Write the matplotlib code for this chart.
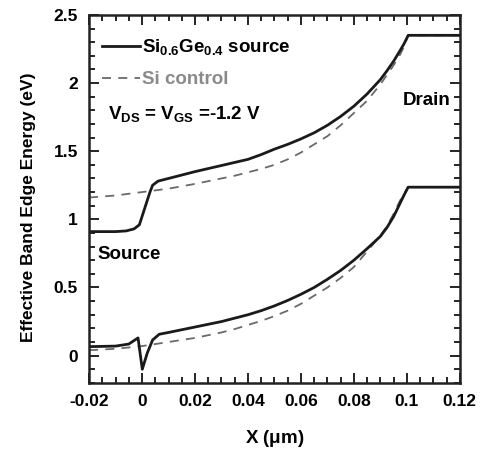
import matplotlib
matplotlib.use("Agg")
import matplotlib.pyplot as plt
from matplotlib.ticker import MultipleLocator

plt.rcParams['font.family'] = ['Liberation Sans', 'DejaVu Sans']
plt.rcParams['font.weight'] = 'bold'
plt.rcParams['axes.labelweight'] = 'bold'
plt.rcParams['mathtext.fontset'] = 'custom'
plt.rcParams['mathtext.rm'] = 'Liberation Sans:bold'
plt.rcParams['mathtext.it'] = 'Liberation Sans:bold'
plt.rcParams['mathtext.bf'] = 'Liberation Sans:bold'

# Upper band edge, SiGe source (solid)
x_up_sige = [-0.02, -0.01, -0.006, -0.003, -0.001, 0.001, 0.003, 0.004, 0.006, 0.01, 0.02, 0.03,
             0.04, 0.045, 0.05, 0.055, 0.06, 0.065, 0.07, 0.075, 0.08, 0.085, 0.09, 0.0925,
             0.095, 0.0975, 0.099, 0.1005, 0.11, 0.12]
e_up_sige = [0.91, 0.91, 0.915, 0.93, 0.96, 1.08, 1.20, 1.25, 1.28, 1.30, 1.35, 1.395,
             1.44, 1.475, 1.515, 1.55, 1.59, 1.635, 1.69, 1.755, 1.83, 1.92, 2.025, 2.09,
             2.16, 2.24, 2.29, 2.35, 2.35, 2.35]
# Upper band edge, Si control (dashed)
x_up_si = [-0.02, -0.01, 0.0, 0.01, 0.02, 0.03, 0.035, 0.04, 0.045, 0.05, 0.055, 0.06,
           0.065, 0.07, 0.075, 0.08, 0.085, 0.09, 0.0925, 0.095, 0.0975, 0.099, 0.1005,
           0.11, 0.12]
e_up_si = [1.16, 1.175, 1.20, 1.225, 1.26, 1.30, 1.32, 1.345, 1.37, 1.40, 1.44, 1.49,
           1.55, 1.61, 1.69, 1.78, 1.87, 1.99, 2.06, 2.13, 2.21, 2.27, 2.35,
           2.35, 2.35]
# Lower band edge, SiGe source (solid)
x_lo_sige = [-0.02, -0.01, -0.005, -0.0015, 0.0001, 0.002, 0.004, 0.0065, 0.01, 0.02, 0.03,
             0.035, 0.04, 0.045, 0.05, 0.055, 0.06, 0.065, 0.07, 0.075, 0.08, 0.085, 0.09,
             0.0925, 0.095, 0.0975, 0.099, 0.1005, 0.11, 0.12]
e_lo_sige = [0.066, 0.07, 0.085, 0.13, -0.10, 0.02, 0.115, 0.157, 0.17, 0.21, 0.25,
             0.275, 0.30, 0.33, 0.365, 0.405, 0.45, 0.50, 0.56, 0.625, 0.70, 0.785, 0.875,
             0.94, 1.02, 1.12, 1.18, 1.236, 1.236, 1.236]
# Lower band edge, Si control (dashed)
x_lo_si = [-0.02, -0.01, 0.0, 0.01, 0.02, 0.03, 0.035, 0.04, 0.045, 0.05, 0.055, 0.06,
           0.065, 0.07, 0.075, 0.08, 0.085, 0.09, 0.0925, 0.095, 0.0975, 0.099, 0.1005,
           0.11, 0.12]
e_lo_si = [0.04, 0.05, 0.07, 0.10, 0.13, 0.17, 0.195, 0.225, 0.255, 0.29, 0.33, 0.38,
           0.44, 0.50, 0.57, 0.65, 0.765, 0.88, 0.95, 1.04, 1.14, 1.19, 1.236,
           1.236, 1.236]

fig = plt.figure(figsize=(4.84, 4.51), dpi=100)
ax = fig.add_axes([0.184, 0.151, 0.766, 0.816])

solid_c = '#1a1a1a'
dash_c = '#6a6a6a'
ax.plot(x_up_si, e_up_si, color=dash_c, lw=1.3, dashes=(5, 4))
ax.plot(x_lo_si, e_lo_si, color=dash_c, lw=1.3, dashes=(5, 4))
l1, = ax.plot(x_up_sige, e_up_sige, color=solid_c, lw=2.0, label=r'Si$_{0.6}$Ge$_{0.4}$ source')
ax.plot(x_lo_sige, e_lo_sige, color=solid_c, lw=2.0)
l2, = ax.plot([], [], color=dash_c, lw=1.3, dashes=(5, 4), label='Si control')

ax.set_xlim(-0.02, 0.12)
ax.set_ylim(-0.2, 2.5)
ax.xaxis.set_major_locator(MultipleLocator(0.02))
ax.xaxis.set_minor_locator(MultipleLocator(0.005))
ax.yaxis.set_major_locator(MultipleLocator(0.5))
ax.yaxis.set_minor_locator(MultipleLocator(0.1))
ax.tick_params(which='both', direction='in', top=True, right=True, width=1.2)
ax.tick_params(which='major', length=7, labelsize=12.5, pad=8)
ax.tick_params(which='minor', length=4)
ax.set_xticks([-0.02, 0, 0.02, 0.04, 0.06, 0.08, 0.1, 0.12])
ax.set_xticklabels(['-0.02', '0', '0.02', '0.04', '0.06', '0.08', '0.1', '0.12'])
ax.set_yticks([0, 0.5, 1, 1.5, 2, 2.5])
ax.set_yticklabels(['0', '0.5', '1', '1.5', '2', '2.5'])
for s in ax.spines.values():
    s.set_linewidth(1.8)
    s.set_color('#222222')

ax.set_xlabel(r'X ($\mu$m)', fontsize=13.5, labelpad=14)
ax.set_ylabel('Effective Band Edge Energy (eV)', fontsize=12.5)
ax.yaxis.set_label_coords(-0.142, 0.478)

leg = ax.legend(handles=[l1, l2], loc='upper left', frameon=False, fontsize=13.5,
                handlelength=2.0, handletextpad=0.1, borderaxespad=0.3,
                labelspacing=0.75, bbox_to_anchor=(0.0, 0.975))
leg.get_texts()[1].set_color('#8a8a8a')

ax.text(0.05, 0.73, r'V$_{\rm DS}$ = V$_{\rm GS}$ =-1.2 V', transform=ax.transAxes,
        fontsize=13.5, ha='left', va='center')
ax.text(0.975, 0.767, 'Drain', transform=ax.transAxes, fontsize=13.5, ha='right', va='center')
ax.text(0.022, 0.35, 'Source', transform=ax.transAxes, fontsize=13.5, ha='left', va='center')

fig.savefig('out.png', dpi=100)
